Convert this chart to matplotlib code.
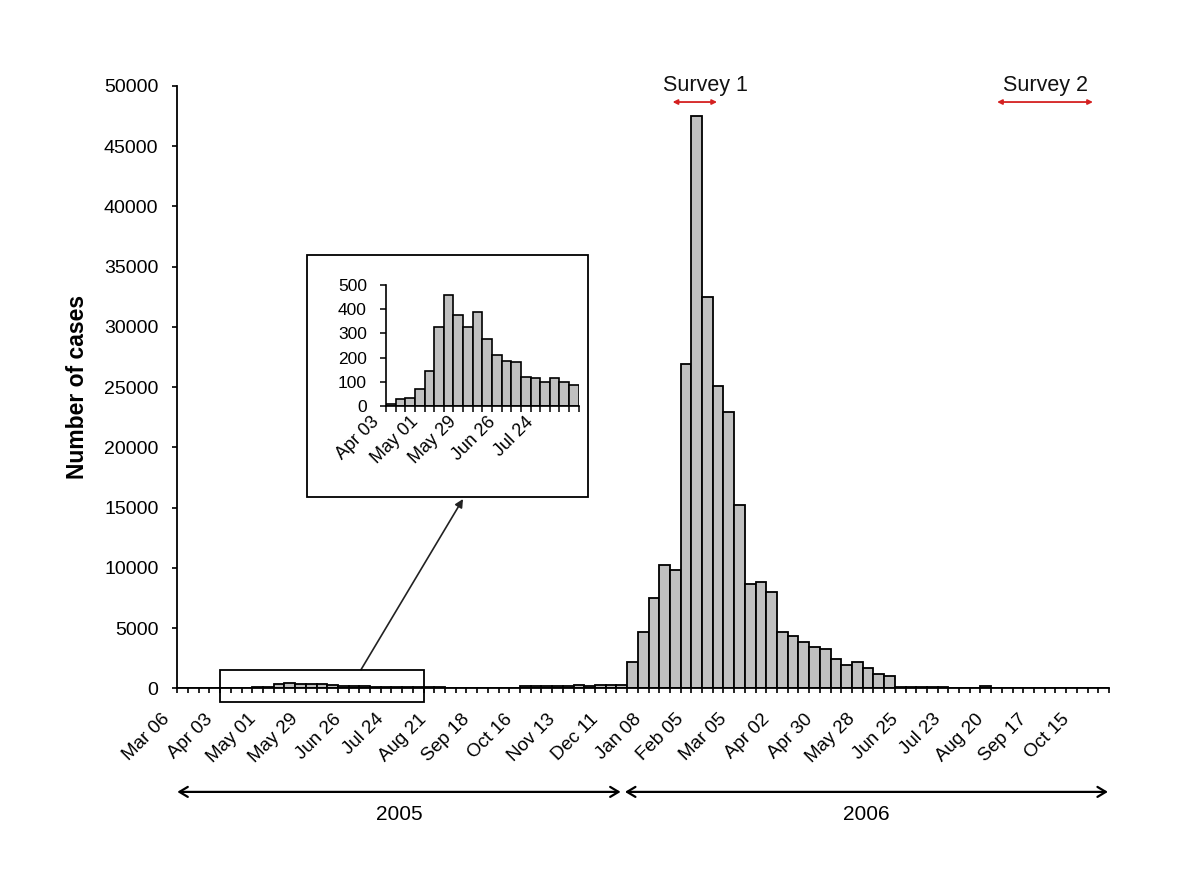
import matplotlib
matplotlib.use("Agg")
import matplotlib.pyplot as plt
from matplotlib.patches import Rectangle
from matplotlib.transforms import ScaledTranslation, blended_transform_factory

plt.rcParams['font.family'] = ['Liberation Sans', 'DejaVu Sans']

# ---------------- data ----------------
# weekly case counts starting week of Mar 06 2005 (87 weeks)
cases = [0, 0, 0, 0,
         10, 30, 35, 70, 145, 325, 460, 375, 325, 390, 275, 210, 185, 180, 120, 115, 100, 115, 100, 85,
         70, 65, 60, 60, 60, 55, 60, 60,
         160, 170, 180, 175, 190, 300, 180, 290, 300, 310,
         2200, 4650, 7500, 10200, 9800, 26900, 47500, 32500, 25100, 22950, 15250,
         8650, 8800, 8000, 4650, 4350, 3850, 3450, 3250, 2450, 1950, 2200, 1700, 1150, 1000,
         140, 130, 130, 120, 130, 0, 0, 0, 170,
         0, 0, 0, 0, 0, 0, 0, 0, 0, 0, 0]
tick_labels = ["Mar 06", "Apr 03", "May 01", "May 29", "Jun 26", "Jul 24", "Aug 21",
               "Sep 18", "Oct 16", "Nov 13", "Dec 11", "Jan 08", "Feb 05", "Mar 05",
               "Apr 02", "Apr 30", "May 28", "Jun 25", "Jul 23", "Aug 20", "Sep 17", "Oct 15"]
label_step = 4
y_ticks = list(range(0, 50001, 5000))

# inset: weeks Apr 03 .. Aug 14 2005
inset_start = 4
inset_len = 20
inset_cases = cases[inset_start:inset_start + inset_len]
inset_labels = ["Apr 03", "May 01", "May 29", "Jun 26", "Jul 24"]
inset_yticks = [0, 100, 200, 300, 400, 500]

# survey periods (arrow start, arrow end, text centre) in week units
surveys = [("Survey 1", 46.25, 50.4, 49.27), ("Survey 2", 76.55, 85.5, 81.1)]
years = [("2005", 0.0, 41.4), ("2006", 41.8, 86.9)]

# ---------------- figure ----------------
W, H = 1200, 882
fig = plt.figure(figsize=(W / 100, H / 100), dpi=100)
fig.patch.set_facecolor('white')

def px(x0, y0, x1, y1):
    return [x0 / W, 1 - y1 / H, (x1 - x0) / W, (y1 - y0) / H]

ax = fig.add_axes(px(177.3, 86, 1109, 688.3))
n = len(cases)
ax.bar(range(n), cases, width=1.0, align='edge', color='#c0c0c0',
       edgecolor='black', linewidth=1.3, zorder=2)
ax.set_xlim(0, n)
ax.set_ylim(0, 50000)
for s in ['top', 'right']:
    ax.spines[s].set_visible(False)
for s in ['left', 'bottom']:
    ax.spines[s].set_linewidth(1.3)
ax.set_yticks(y_ticks)
ax.set_yticklabels([str(v) for v in y_ticks], fontsize=14)
ax.tick_params(axis='y', direction='out', length=3.6, width=1.2, pad=10)
ax.set_xticks(range(0, n + 1), minor=True)
ax.set_xticks([i * label_step for i in range(len(tick_labels))])
ax.set_xticklabels(tick_labels, fontsize=13.5, rotation=45, ha='right', va='top',
                   rotation_mode='anchor')
ax.tick_params(axis='x', which='both', direction='out', length=3.6, width=1.2, pad=12.5)
off = ScaledTranslation(-16 / 100, 0, fig.dpi_scale_trans)
for lab in ax.get_xticklabels():
    lab.set_transform(lab.get_transform() + off)
ax.set_ylabel("Number of cases", fontsize=16.5, fontweight='bold', va='center')
ax.yaxis.set_label_coords(-0.1066, 0.5)

# survey arrows
tr = blended_transform_factory(ax.transData, ax.transAxes)
for name, x0, x1, xt in surveys:
    ax.annotate("", xy=(x0, 0.9734), xytext=(x1, 0.9734), xycoords=tr, textcoords=tr,
                arrowprops=dict(arrowstyle='<|-|>', color='#d42020', lw=1.3,
                                mutation_scale=7, shrinkA=0, shrinkB=0))
    ax.text(xt, 0.9925, name, transform=tr, ha='center', va='baseline',
            fontsize=15.5, color='#111111')

# year arrows
for name, x0, x1 in years:
    ax.annotate("", xy=(x0, -0.172), xytext=(x1, -0.172), xycoords=tr, textcoords=tr,
                arrowprops=dict(arrowstyle='<->, head_length=0.5, head_width=0.3',
                                color='black', lw=1.6,
                                mutation_scale=12, shrinkA=0, shrinkB=0),
                annotation_clip=False)
    ax.text((x0 + x1) / 2, -0.209, name, transform=tr, ha='center', va='center',
            fontsize=15)

# zoom box on main axes
ax.add_patch(Rectangle((inset_start, -1137), inset_len - 1, 2656, fill=False,
                       edgecolor='black', linewidth=1.3, clip_on=False, zorder=5))

# inset frame
fig.patches.append(Rectangle((307 / W, 1 - 497 / H), (588 - 307) / W, (497 - 255) / H,
                             transform=fig.transFigure, fill=False, edgecolor='black',
                             linewidth=1.3))

# connecting arrow
ax.annotate("", xy=(463 / W, 1 - 499 / H), xycoords='figure fraction',
            xytext=(17.15, 1540), textcoords='data',
            arrowprops=dict(arrowstyle='-|>', color='#222222', lw=1.2,
                            mutation_scale=12, shrinkA=0, shrinkB=0),
            annotation_clip=False)

# inset axes
axi = fig.add_axes(px(386, 285, 578.7, 406))
axi.bar(range(inset_len), inset_cases, width=1.0, align='edge', color='#c0c0c0',
        edgecolor='black', linewidth=1.2)
axi.set_xlim(0, inset_len)
axi.set_ylim(0, 500)
for s in ['top', 'right']:
    axi.spines[s].set_visible(False)
for s in ['left', 'bottom']:
    axi.spines[s].set_linewidth(1.2)
axi.set_yticks(inset_yticks)
axi.set_yticklabels([str(v) for v in inset_yticks], fontsize=12.5)
axi.tick_params(axis='y', direction='out', length=4.3, width=1.1, pad=9.4)
axi.set_xticks(range(0, inset_len + 1), minor=True)
axi.set_xticks([i * label_step for i in range(len(inset_labels))])
axi.set_xticklabels(inset_labels, fontsize=13, rotation=45, ha='right', va='top',
                    rotation_mode='anchor')
axi.tick_params(axis='x', which='both', direction='out', length=4, width=1.1, pad=1.5)
off2 = ScaledTranslation(-15 / 100, 0, fig.dpi_scale_trans)
for lab in axi.get_xticklabels():
    lab.set_transform(lab.get_transform() + off2)

fig.savefig("out.png", dpi=100, facecolor='white')
